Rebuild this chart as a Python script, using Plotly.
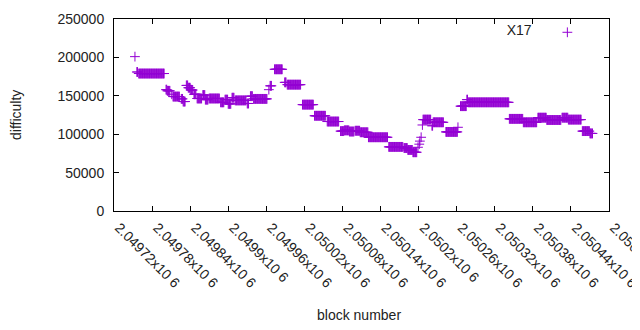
import numpy as np
import plotly.graph_objects as go

# Runs of (nearly) constant difficulty: first block, last block, difficulty
run_start = [2049753, 2049756, 2049759, 2049802, 2049804, 2049811, 2049813, 2049826, 2049829,
             2049834, 2049837, 2049841, 2049846, 2049851, 2049860, 2049864, 2049870, 2049888,
             2049895, 2049900, 2049906, 2049911, 2049930, 2049935, 2049940, 2049964, 2049966,
             2049973, 2049989, 2049993, 2050017, 2050036, 2050056, 2050077, 2050083, 2050091,
             2050100, 2050108, 2050121, 2050153, 2050177, 2050183, 2050191, 2050199, 2050201,
             2050202, 2050204, 2050206, 2050207, 2050221, 2050223, 2050243, 2050262, 2050266,
             2050276, 2050278, 2050343, 2050365, 2050388, 2050402, 2050426, 2050436, 2050458,
             2050470]
run_end = [2049753, 2049757, 2049799, 2049803, 2049808, 2049811, 2049823, 2049828, 2049832,
           2049836, 2049840, 2049844, 2049849, 2049858, 2049863, 2049868, 2049886, 2049893,
           2049899, 2049904, 2049909, 2049928, 2049932, 2049938, 2049961, 2049964, 2049968,
           2049985, 2049991, 2050014, 2050034, 2050053, 2050074, 2050082, 2050090, 2050098,
           2050107, 2050120, 2050151, 2050175, 2050182, 2050190, 2050197, 2050199, 2050201,
           2050202, 2050204, 2050206, 2050219, 2050222, 2050239, 2050261, 2050262, 2050275,
           2050277, 2050342, 2050364, 2050386, 2050401, 2050424, 2050435, 2050456, 2050469,
           2050474]
run_difficulty = [201000, 181000, 179000, 158000, 156500, 152000, 149000, 146000, 142500,
                  163500, 160500, 157500, 152000, 146500, 151000, 145000, 146500, 141500,
                  145000, 139500, 147500, 144000, 140000, 149500, 146000, 158000, 163000,
                  184500, 167500, 164500, 138500, 124000, 116500, 104000, 105000, 103500,
                  104500, 102500, 96000, 83500, 82000, 79500, 76500, 83000, 87000,
                  91000, 96000, 112000, 119000, 111000, 115500, 103000, 109000, 136500,
                  145000, 141500, 120000, 115500, 121500, 118500, 121500, 119000, 104000,
                  101000]

tick_vals = [2049720, 2049780, 2049840, 2049900, 2049960, 2050020, 2050080,
             2050140, 2050200, 2050260, 2050320, 2050380, 2050440, 2050500]
tick_text = ["2.04972x10 6", "2.04978x10 6", "2.04984x10 6", "2.0499x10 6", "2.04996x10 6",
             "2.05002x10 6", "2.05008x10 6", "2.05014x10 6", "2.0502x10 6", "2.05026x10 6",
             "2.05032x10 6", "2.05038x10 6", "2.05044x10 6", "2.0505x10 6"]
y_ticks = [0, 50000, 100000, 150000, 200000, 250000]

blocks, diffs = [], []
for s, e, d in zip(run_start, run_end, run_difficulty):
    for b in range(s, e + 1):
        blocks.append(b)
        diffs.append(d)

FONT = "Liberation Sans, Arial, sans-serif"
COLOR = "#9400d3"
TXT = "#222222"

fig = go.Figure()
fig.add_trace(go.Scatter(
    x=blocks, y=diffs, mode="markers", name="",
    marker=dict(symbol="cross-thin", size=7, line=dict(width=1, color=COLOR), color=COLOR),
    showlegend=True,
))

# the page body adds an 8px offset, so the figure is 8px smaller than the window
fig.update_layout(
    width=632, height=322, autosize=False,
    margin=dict(l=106, r=31, t=11, b=119, autoexpand=False),
    paper_bgcolor="white", plot_bgcolor="white",
    font=dict(family=FONT, size=14, color=TXT),
    showlegend=True,
    legend=dict(
        x=0.967, y=1.012, xanchor="right", yanchor="top",
        bgcolor="rgba(0,0,0,0)", borderwidth=0,
        title=dict(text="X17  ", side="left", font=dict(size=14, family=FONT, color=TXT)),
        font=dict(size=14, family=FONT), itemwidth=30,
    ),
    xaxis=dict(
        range=[2049720, 2050500], tickmode="array", tickvals=tick_vals, ticktext=tick_text,
        tickangle=45, ticks="inside", ticklen=5, tickcolor="black",
        showline=True, linecolor="black", linewidth=1, mirror="ticks",
        showgrid=False, zeroline=False, automargin=False,
        ticklabeloverflow="allow", ticklabelshift=5, ticklabelstandoff=2,
        tickfont=dict(size=14, family=FONT, color=TXT),
    ),
    yaxis=dict(
        range=[0, 250000], tickmode="array", tickvals=y_ticks,
        ticktext=[str(v) for v in y_ticks],
        ticks="inside", ticklen=5, tickcolor="black",
        showline=True, linecolor="black", linewidth=1, mirror="ticks",
        showgrid=False, zeroline=False, ticklabelstandoff=6, automargin=False,
        tickfont=dict(size=14, family=FONT, color=TXT),
    ),
    annotations=[
        dict(text="difficulty", xref="paper", yref="paper", x=-0.198, y=0.5,
             textangle=-90, showarrow=False, xanchor="center", yanchor="middle",
             font=dict(size=14, family=FONT, color=TXT)),
        dict(text="block number", xref="paper", yref="paper", x=0.494, y=-0.54,
             showarrow=False, xanchor="center", yanchor="middle",
             font=dict(size=14, family=FONT, color=TXT)),
    ],
)

fig.write_html("out.html")
